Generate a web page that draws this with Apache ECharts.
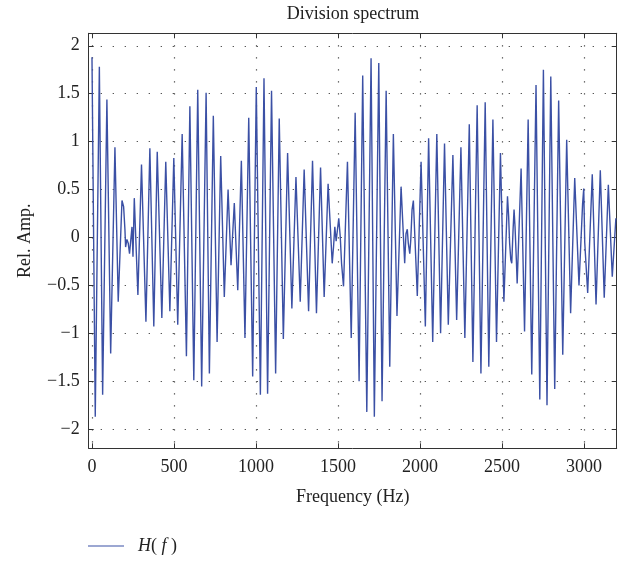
<!DOCTYPE html>
<html><head><meta charset="utf-8">
<script src="https://cdn.jsdelivr.net/npm/echarts@6/dist/echarts.min.js"></script>
<style>html,body{margin:0;padding:0;background:#fff}#c{width:622px;height:563px}</style>
</head><body><div id="c"></div>
<script>
const freqs = [0,20,45,65,91,114,140,160,183,193,201,205,213,221,229,237,244,250,258,280,302,329,353,377,398,426,450,475,499,523,550,576,597,621,645,669,696,716,740,763,785,807,830,848,868,889,911,933,956,980,1002,1027,1049,1071,1095,1120,1142,1167,1193,1219,1244,1270,1294,1321,1345,1369,1394,1416,1440,1465,1473,1481,1489,1497,1505,1514,1522,1534,1558,1581,1605,1629,1651,1676,1702,1722,1749,1769,1794,1816,1838,1860,1885,1907,1915,1923,1929,1938,1944,1952,1960,1984,2007,2033,2053,2078,2103,2126,2150,2173,2201,2224,2250,2274,2301,2323,2349,2372,2398,2420,2445,2467,2491,2512,2534,2541,2547,2554,2560,2568,2574,2580,2588,2593,2617,2638,2660,2682,2708,2731,2753,2775,2798,2822,2846,2871,2895,2919,2944,2970,2992,2999,3005,3023,3051,3074,3100,3124,3149,3173,3195];
const amps = [1.88,-1.87,1.78,-1.64,1.44,-1.21,0.94,-0.67,0.385,0.32,0.08,-0.1,-0.02,-0.06,-0.17,-0.18,0.11,-0.2,0.41,-0.6,0.76,-0.88,0.93,-0.93,0.895,-0.84,0.79,-0.77,0.83,-0.91,1.08,-1.24,1.37,-1.49,1.54,-1.555,1.51,-1.42,1.27,-1.09,0.85,-0.62,0.5,-0.29,0.36,-0.55,0.8,-1.05,1.25,-1.45,1.57,-1.64,1.66,-1.63,1.53,-1.42,1.24,-1.06,0.88,-0.74,0.63,-0.67,0.71,-0.77,0.8,-0.79,0.73,-0.62,0.56,-0.27,-0.1,0.11,-0.04,0.08,0.2,0.01,-0.27,-0.51,0.79,-1.05,1.3,-1.5,1.69,-1.82,1.87,-1.87,1.82,-1.71,1.53,-1.35,1.08,-0.82,0.53,-0.27,0.04,0.085,-0.06,-0.17,-0.03,0.29,0.385,-0.61,0.79,-0.93,1.035,-1.09,1.08,-1.0,0.98,-0.91,0.86,-0.86,0.94,-1.05,1.18,-1.3,1.38,-1.42,1.41,-1.35,1.23,-1.09,0.88,-0.67,0.43,0.22,-0.06,-0.23,-0.27,0.08,0.29,0.11,-0.23,-0.48,0.72,-0.98,1.23,-1.43,1.59,-1.69,1.75,-1.75,1.68,-1.58,1.43,-1.225,1.02,-0.79,0.62,-0.5,0.35,0.51,-0.05,-0.58,0.66,-0.7,0.7,-0.63,0.55,-0.41,0.2];
const xTicks = [0,500,1000,1500,2000,2500,3000];
const yTicks = [-2,-1.5,-1,-0.5,0,0.5,1,1.5,2];

const FONT = 'Liberation Serif';
const FS = 18;
const frame = {show:true, onZero:false, lineStyle:{color:'#333', width:1}};
const tick = {show:true, inside:true, length:5, customValues:xTicks, lineStyle:{color:'#333'}};
const ytick = {show:true, inside:true, length:5, customValues:yTicks, lineStyle:{color:'#333'}};
const dotted = {show:true, lineStyle:{color:'#444', width:1.2, type:[1.2,10.8]}};
const lab = {fontFamily:FONT, fontSize:FS, color:'#222'};

const chart = echarts.init(document.getElementById('c'), null, {renderer:'canvas'});
chart.setOption({
  animation:false,
  backgroundColor:'#fff',
  title:{text:'Division spectrum', left:348, top:0, textAlign:'center',
    textStyle:{fontFamily:FONT, fontSize:FS, fontWeight:'normal', color:'#222'}},
  grid:{left:88.7, right:5.3, top:33.3, bottom:114.7, containLabel:false},
  legend:{left:83, top:532, itemWidth:36, itemHeight:1, icon:'rect',
    data:['H(f)'],
    formatter:function(){return '{i|H}( {i|f} )';},
    textStyle:{fontFamily:FONT, fontSize:FS, color:'#222', padding:[0,0,0,9],
      rich:{i:{fontFamily:FONT, fontSize:FS, fontStyle:'italic', color:'#222'}}}},
  xAxis:[
    {type:'value', min:-20, max:3200, position:'bottom', axisLine:frame, axisTick:tick,
     axisLabel:Object.assign({customValues:xTicks, margin:10, formatter:v=>String(v)}, lab), splitLine:dotted,
     name:'Frequency (Hz)', nameLocation:'middle', nameGap:40,
     nameTextStyle:{fontFamily:FONT, fontSize:FS, color:'#222'}},
    {type:'value', min:-20, max:3200, position:'top', axisLine:frame, axisTick:tick,
     axisLabel:{show:false}, splitLine:{show:false}}
  ],
  yAxis:[
    {type:'value', min:-2.2, max:2.13, position:'left', axisLine:frame, axisTick:ytick,
     axisLabel:Object.assign({customValues:yTicks, margin:9, formatter:v=>String(v).replace('-','\u2212')}, lab), splitLine:dotted,
     name:'Rel. Amp.', nameLocation:'middle', nameGap:54, nameRotate:90,
     nameTextStyle:{fontFamily:FONT, fontSize:FS, color:'#222'}},
    {type:'value', min:-2.2, max:2.13, position:'right', axisLine:frame, axisTick:ytick,
     axisLabel:{show:false}, splitLine:{show:false}}
  ],
  series:[{
    name:'H(f)', type:'line', xAxisIndex:0, yAxisIndex:0, showSymbol:false, symbol:'none',
    data:freqs.map((f,i)=>[f, amps[i]]),
    lineStyle:{color:'#3b50a5', width:1.4}, itemStyle:{color:'#3b50a5'},
    clip:true
  }]
});
</script></body></html>
